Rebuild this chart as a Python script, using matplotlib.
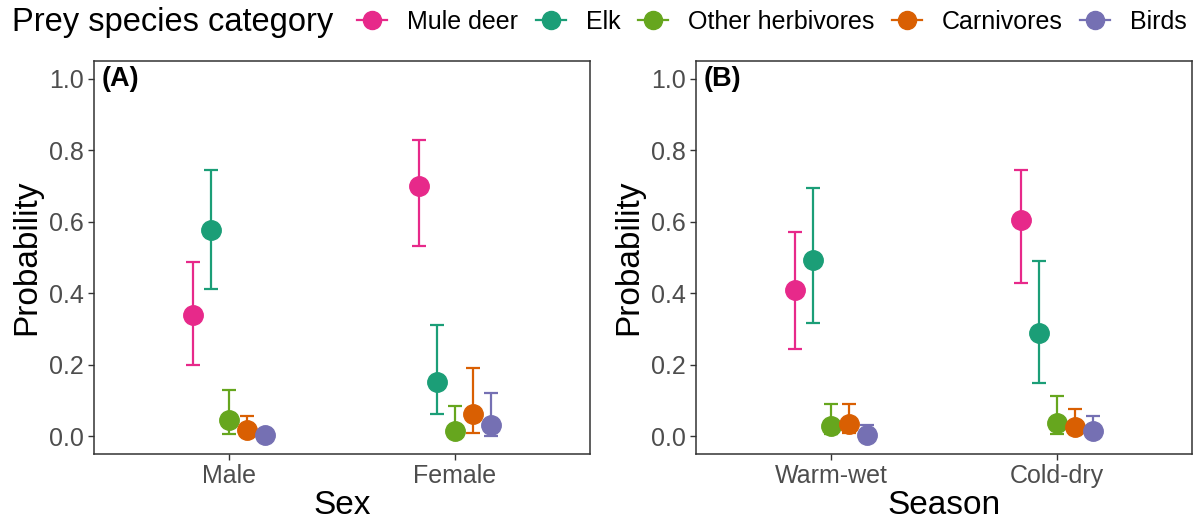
import numpy as np
import matplotlib
matplotlib.use("Agg")
import matplotlib.pyplot as plt
from matplotlib.lines import Line2D
from matplotlib.transforms import blended_transform_factory

plt.rcParams['font.family'] = ['Liberation Sans', 'DejaVu Sans']

species = ['Mule deer', 'Elk', 'Other herbivores', 'Carnivores', 'Birds']
colors = ['#E7298A', '#1B9E77', '#66A61E', '#D95F02', '#7570B3']

sex_levels = ['Male', 'Female']
season_levels = ['Warm-wet', 'Cold-dry']

# estimates, rows = species, cols = levels
sex_est = [[0.34, 0.70], [0.577, 0.152], [0.044, 0.015], [0.016, 0.063], [0.003, 0.031]]
sex_lo = [[0.20, 0.533], [0.413, 0.061], [0.006, 0.0], [0.0, 0.01], [0.0, 0.001]]
sex_hi = [[0.487, 0.83], [0.744, 0.31], [0.13, 0.084], [0.055, 0.19], [0.01, 0.121]]

season_est = [[0.408, 0.605], [0.494, 0.288], [0.029, 0.038], [0.033, 0.026], [0.004, 0.013]]
season_lo = [[0.244, 0.43], [0.316, 0.149], [0.005, 0.005], [0.01, 0.005], [0.0, 0.0]]
season_hi = [[0.572, 0.746], [0.695, 0.49], [0.091, 0.112], [0.091, 0.075], [0.031, 0.055]]

offsets = [-0.16, -0.08, 0.0, 0.08, 0.16]

W, H = 1203, 529
fig = plt.figure(figsize=(W / 100, H / 100), dpi=100)
axA = fig.add_axes([94 / W, 1 - 454 / H, 496 / W, 393 / H])
axB = fig.add_axes([696 / W, 1 - 454 / H, 496 / W, 393 / H])


def draw(ax, levels, est, lo, hi, xlabel, tag):
    x = np.arange(1, len(levels) + 1)
    for i in range(len(species)):
        e = np.array(est[i])
        yerr = [e - np.array(lo[i]), np.array(hi[i]) - e]
        ax.errorbar(x + offsets[i], e, yerr=yerr, fmt='o', color=colors[i],
                    markersize=14, elinewidth=1.6, capsize=5, capthick=1.6)
    ax.set_xlim(0.4, 2.6)
    ax.set_ylim(-0.05, 1.05)
    ax.set_xticks(x)
    ax.set_xticklabels(levels)
    ax.set_yticks([0, 0.2, 0.4, 0.6, 0.8, 1.0])
    ax.set_yticklabels(['0.0', '0.2', '0.4', '0.6', '0.8', '1.0'])
    ax.tick_params(labelsize=18, colors='#333333', labelcolor='#4D4D4D',
                   length=4, width=1)
    for s in ax.spines.values():
        s.set_color('#333333')
        s.set_linewidth(1.1)
    ax.set_xlabel(xlabel, fontsize=24, labelpad=1)
    ax.set_ylabel('Probability', fontsize=24, labelpad=5)
    tr = blended_transform_factory(ax.transAxes, ax.transData)
    ax.text(0.015, 1.0, tag, transform=tr, fontsize=19.5, fontweight='bold',
            va='center', ha='left')


draw(axA, sex_levels, sex_est, sex_lo, sex_hi, 'Sex', '(A)')
draw(axB, season_levels, season_est, season_lo, season_hi, 'Season', '(B)')

fig.text(12 / W, 1 - 22 / H, 'Prey species category', fontsize=23.5,
         va='center', ha='left')
handles = [Line2D([], [], color=c, marker='o', markersize=13, lw=1.6) for c in colors]
fig.legend(handles, species, loc='center left', ncol=5, frameon=False,
           bbox_to_anchor=(357 / W, 1 - 22 / H), fontsize=18, borderpad=0,
           borderaxespad=0, handlelength=1.2, handletextpad=0.8,
           columnspacing=0.7)

fig.savefig('out.png', dpi=100)
